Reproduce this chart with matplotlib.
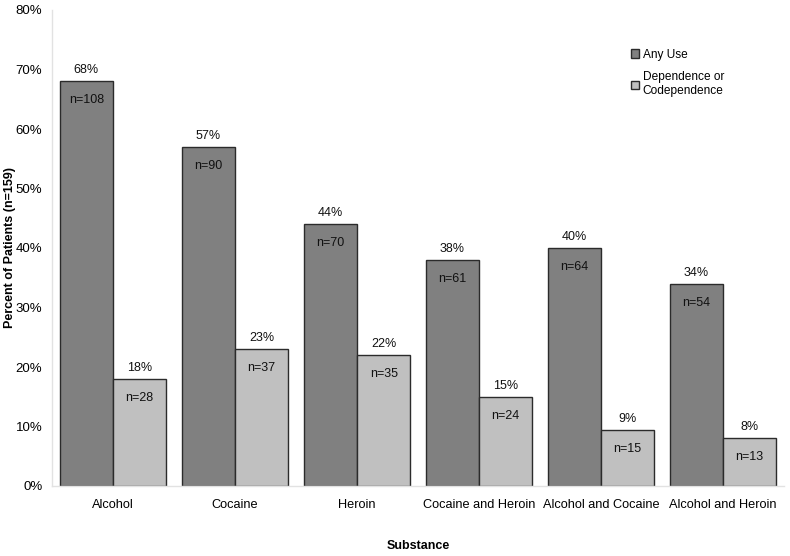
import matplotlib
matplotlib.use("Agg")
import matplotlib.pyplot as plt
import numpy as np

plt.rcParams['font.family'] = ['Liberation Sans', 'DejaVu Sans']

categories = ["Alcohol", "Cocaine", "Heroin", "Cocaine and Heroin",
              "Alcohol and Cocaine", "Alcohol and Heroin"]
any_use = [68, 57, 44, 38, 40, 34]
dependence = [18, 23, 22, 15, 9.4, 8]
any_use_labels = ["68%", "57%", "44%", "38%", "40%", "34%"]
dependence_labels = ["18%", "23%", "22%", "15%", "9%", "8%"]
any_use_n = ["n=108", "n=90", "n=70", "n=61", "n=64", "n=54"]
dependence_n = ["n=28", "n=37", "n=35", "n=24", "n=15", "n=13"]
yticks = [0, 10, 20, 30, 40, 50, 60, 70, 80]

fig = plt.figure(figsize=(7.9, 5.56), dpi=100)
ax = fig.add_axes([52/790, 1-486/556, 732/790, 476/556])

x = np.arange(len(categories))
w = 0.437
ax.bar(x - w/2, any_use, w, color="#808080", edgecolor="#2b2b2b", linewidth=1.0, label="Any Use")
ax.bar(x + w/2, dependence, w, color="#c0c0c0", edgecolor="#2b2b2b", linewidth=1.0,
       label="Dependence or\nCodependence")

for xs, vals, labs, ns in [(x - w/2, any_use, any_use_labels, any_use_n),
                           (x + w/2, dependence, dependence_labels, dependence_n)]:
    for xi, v, lab, nl in zip(xs, vals, labs, ns):
        ax.annotate(lab, (xi, v), xytext=(0, 11), textcoords="offset pixels",
                    ha="center", va="center", fontsize=9, color="#111")
        ax.annotate(nl, (xi, v), xytext=(0, -19), textcoords="offset pixels",
                    ha="center", va="center", fontsize=9, color="#111")

ax.set_xlim(-0.5, len(categories) - 0.5)
ax.set_ylim(0, 80)
ax.set_yticks(yticks)
ax.set_yticklabels([f"{t}%" for t in yticks], fontsize=9.5)
ax.set_xticks(x)
ax.set_xticklabels(categories, fontsize=9.2)
ax.tick_params(length=0)
ax.tick_params(axis='x', pad=9)
ax.tick_params(axis='y', pad=7)
for s in ["top", "right"]:
    ax.spines[s].set_visible(False)
for s in ["left", "bottom"]:
    ax.spines[s].set_color("#e2e2e2")
    ax.spines[s].set_linewidth(1.0)

fig.text(10/790, 1 - 248/556, "Percent of Patients (n=159)", rotation=90,
         ha="center", va="center", fontsize=9, fontweight="bold")
fig.text(418/790, 1 - 546/556, "Substance", ha="center", va="center",
         fontsize=9, fontweight="bold")

ax.legend(loc="upper left", bbox_to_anchor=(568/732, 1 - 28/476), frameon=False,
          fontsize=8.6, handlelength=0.7, handleheight=0.7, handletextpad=0.3,
          labelspacing=0.9)

fig.savefig("out.png", dpi=100)
